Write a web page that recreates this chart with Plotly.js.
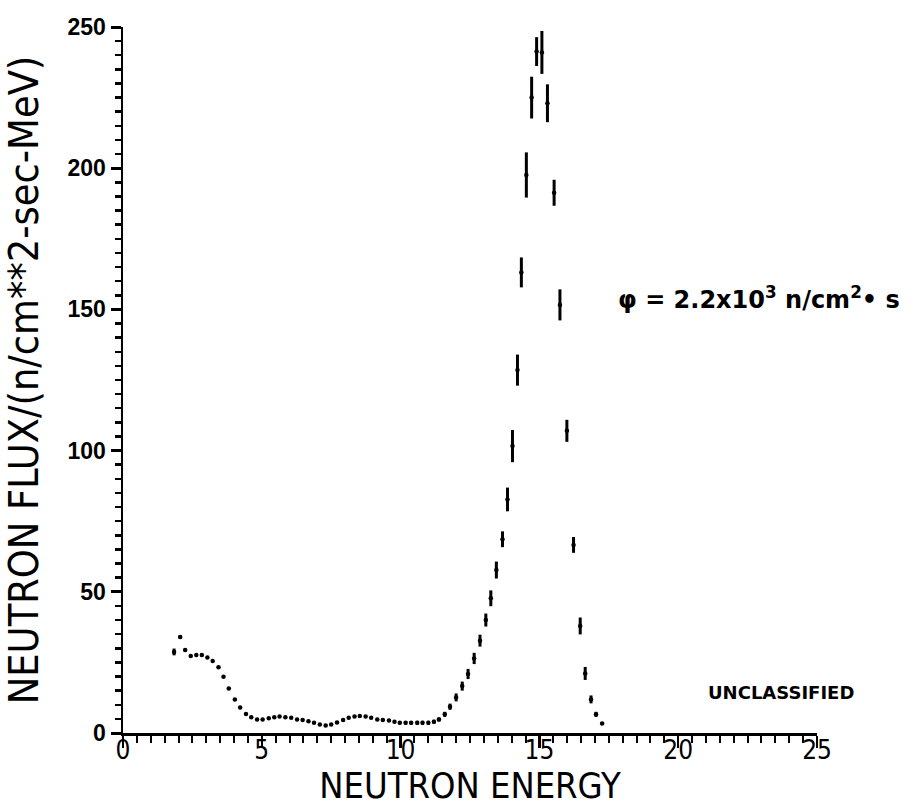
<!DOCTYPE html>
<html>
<head>
<meta charset="utf-8">
<script src="https://cdn.plot.ly/plotly-3.0.1.min.js"></script>
<style>html,body{margin:0;padding:0;background:#fff;}#chart{width:914px;height:806px;}</style>
</head>
<body>
<div id="chart"></div>
<script>
// Neutron energy (MeV)
const energy = [1.84,2.06,2.24,2.44,2.64,2.84,3.04,3.23,3.44,3.62,3.81,4.03,4.22,4.43,4.62,4.83,
  5.03,5.25,5.45,5.64,5.85,6.06,6.27,6.47,6.68,6.88,7.09,7.30,7.50,7.71,7.93,8.13,8.34,8.53,8.74,8.94,
  9.16,9.36,9.58,9.78,9.97,10.18,10.38,10.60,10.79,11.00,11.20,11.38,11.59,11.78,12.00,12.22,12.43,12.65,12.86,
  13.07,13.25,13.45,13.67,13.85,14.03,14.21,14.35,14.53,14.72,14.90,15.09,15.29,15.53,15.74,15.99,
  16.23,16.47,16.65,16.86,17.04,17.26];
// Neutron flux (n/cm**2-sec-MeV)
const flux = [28.7,34.0,29.4,27.3,27.6,27.6,26.7,25.5,23.3,19.9,15.8,11.9,9.0,6.7,5.6,4.8,
  4.8,5.2,5.6,5.8,5.6,5.4,4.8,4.6,4.2,3.6,3.0,2.7,3.0,3.7,4.6,5.4,5.8,6.0,5.8,5.4,
  4.8,4.6,4.4,4.0,3.6,3.6,3.6,3.6,3.6,3.6,4.0,4.8,6.6,9.3,12.6,16.6,20.9,26.4,32.7,
  40.0,47.7,57.7,68.6,82.7,101.6,128.5,163.1,197.6,225.0,241.3,241.0,223.0,191.3,151.6,107.0,
  66.6,37.9,21.1,11.9,6.6,3.4];
// Uncertainty (half length of each bar)
const fluxErr = [1.2,0.6,0.5,0.4,0.4,0.4,0.4,0.4,0.4,0.4,0.4,0.4,0.3,0.3,0.3,0.3,
  0.3,0.3,0.3,0.3,0.3,0.3,0.3,0.3,0.3,0.3,0.4,0.5,0.5,0.4,0.3,0.3,0.4,0.4,0.3,0.3,
  0.3,0.4,0.4,0.5,0.5,0.6,0.6,0.7,0.7,0.7,0.7,0.7,0.9,1.1,1.4,1.6,1.8,2.0,2.1,
  2.3,2.8,3.0,2.8,4.2,5.7,5.5,5.3,8.0,7.4,5.1,7.6,6.7,4.6,5.5,3.9,
  2.8,3.0,2.3,1.4,0.9,0.5];

const xTickVals = [0,5,10,15,20,25];
const yTickVals = [0,50,100,150,200,250];
const yMinorStep = 5;

const narrow = '"Liberation Sans Narrow", "DejaVu Sans Condensed", "Arial Narrow", sans-serif';
const bold = '"Liberation Sans", Arial, sans-serif';
const wide = '"DejaVu Sans", Verdana, sans-serif';

const trace = {
  x: energy, y: flux, type: 'scatter', mode: 'markers',
  marker: {color: '#000', size: 4.5, symbol: 'circle'},
  error_y: {type: 'data', array: fluxErr, visible: true, color: '#000', thickness: 3, width: 0},
  cliponaxis: false, hoverinfo: 'x+y'
};

const layout = {
  width: 914, height: 806,
  margin: {l: 123, r: 97, t: 27, b: 73},
  paper_bgcolor: '#fff', plot_bgcolor: '#fff',
  showlegend: false,
  xaxis: {
    range: [0, 25], tickmode: 'array', tickvals: xTickVals, ticktext: xTickVals.map(String),
    showgrid: false, zeroline: false, showline: true, linecolor: '#000', linewidth: 3,
    ticks: 'outside', ticklen: 12, tickwidth: 2.5, tickcolor: '#000',
    ticklabelstandoff: -20,
    minor: {tickmode: 'linear', tick0: 0, dtick: 0.5, ticks: 'outside', ticklen: 7, tickwidth: 2, tickcolor: '#000', showgrid: false},
    tickfont: {family: narrow, size: 26, color: '#000'},
    title: {text: 'NEUTRON ENERGY', font: {family: narrow, size: 36, color: '#000'}, standoff: 18}
  },
  yaxis: {
    range: [0, 250], tickmode: 'array', tickvals: yTickVals, ticktext: yTickVals.map(String),
    showgrid: false, zeroline: false, showline: true, linecolor: '#000', linewidth: 2.5,
    ticks: 'outside', ticklen: 10, tickwidth: 3, tickcolor: '#000',
    minor: {tickmode: 'linear', tick0: 0, dtick: yMinorStep, ticks: 'outside', ticklen: 6, tickwidth: 2.5, tickcolor: '#000', showgrid: false},
    tickfont: {family: bold, size: 23, color: '#000', weight: 'bold'},
    title: {text: 'NEUTRON FLUX/(n/cm**2-sec-MeV)', font: {family: narrow, size: 41, color: '#000'}, standoff: 22}
  },
  annotations: [
    {x: 17.75, y: 154, xref: 'x', yref: 'y', xanchor: 'left', yanchor: 'middle', showarrow: false,
     text: 'φ = 2.2x10<sup>3</sup> n/cm<sup>2</sup>• s',
     font: {family: wide, size: 24, color: '#000', weight: 'bold'}},
    {x: 21.0, y: 14.5, xref: 'x', yref: 'y', xanchor: 'left', yanchor: 'middle', showarrow: false,
     text: 'UNCLASSIFIED',
     font: {family: wide, size: 18, color: '#000', weight: 'bold'}}
  ]
};

Plotly.newPlot('chart', [trace], layout, {displayModeBar: false, staticPlot: true});
</script>
</body>
</html>
